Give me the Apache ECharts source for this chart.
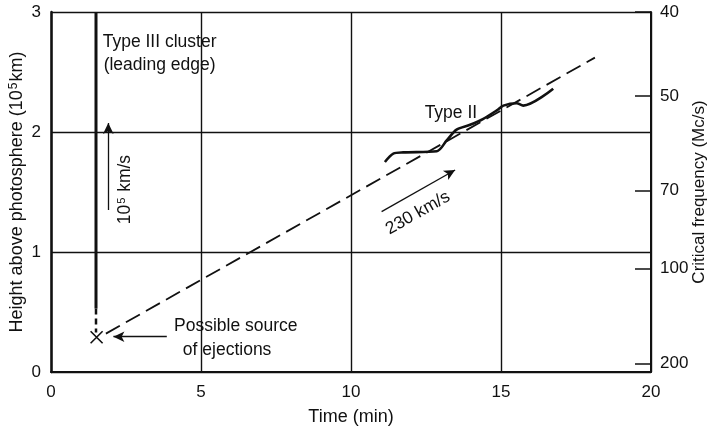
<!DOCTYPE html>
<html>
<head>
<meta charset="utf-8">
<script src="https://cdn.jsdelivr.net/npm/echarts@6/dist/echarts.min.js"></script>
<style>
  html, body { margin: 0; padding: 0; background: #fff; }
  #main { width: 711px; height: 430px; }
</style>
</head>
<body>
<div id="main"></div>
<script>
// x: time (min), y: height above photosphere (10^5 km)
var typeIIIsolid = [[1.5, 3], [1.5, 0.53]]
var typeIIIdashed = [[1.5, 0.53], [1.5, 0.33]]
var sourcePoint = [[1.52, 0.29]]
var ejectionLine = [[1.83, 0.32], [18.13, 2.62]]
var typeIICurve = [
  [11.13, 1.75], [11.41, 1.82], [11.74, 1.83], [12.86, 1.84], [13.19, 1.93],
  [13.52, 2.02], [13.97, 2.06], [14.41, 2.11], [14.86, 2.18], [15.08, 2.22],
  [15.52, 2.24], [15.74, 2.22], [16.74, 2.36]
]
// right axis: critical frequency labels and the heights where they sit
var freqLabels = ['40', '50', '70', '100', '200']
var freqHeights = [3, 2.30, 1.51, 0.86, 0.07]

// annotations [text, x, y, rotate]
var notes = [
  ['Type III cluster', 3.62, 2.75, 0],
  ['(leading edge)', 3.62, 2.56, 0],
  ['{b|10}{s|5}{b| km/s}', 2.47, 1.52, 90],
  ['Type II', 13.33, 2.16, 0],
  ['230 km/s', 12.23, 1.325, 29.6],
  ['Possible source', 6.16, 0.38, 0],
  ['of ejections', 5.87, 0.18, 0]
]
var arrows = [
  [[1.91, 1.35], [1.91, 2.075]],
  [[11.02, 1.336], [13.47, 1.683]],
  [[3.86, 0.294], [2.08, 0.294]]
]

var ink = '#111'
var font = 'Liberation Sans'
var chart = echarts.init(document.getElementById('main'))

var options = {
  backgroundColor: '#fff',
  animation: false,
  textStyle: { fontFamily: font, color: ink },
  grid: { left: 51, right: 60, top: 12, bottom: 58, outerBoundsMode: 'none', containLabel: false },
  xAxis: {
    type: 'value',
    min: 0,
    max: 20,
    interval: 5,
    name: 'Time (min)',
    nameLocation: 'middle',
    nameGap: 36,
    nameMoveOverlap: false,
    nameTextStyle: { fontSize: 18, color: ink, fontFamily: font },
    axisLine: { lineStyle: { color: ink, width: 2 } },
    axisTick: { show: false },
    axisLabel: { fontSize: 17, color: ink, margin: 12 },
    splitLine: { show: true, lineStyle: { color: ink, width: 1.4 } }
  },
  yAxis: [
    {
      type: 'value',
      min: 0,
      max: 3,
      interval: 1,
      name: 'Height above photosphere (10{s|5}km)',
      nameLocation: 'middle',
      nameRotate: 90,
      nameGap: 24,
      nameMoveOverlap: false,
      nameTextStyle: {
        fontSize: 18, color: ink, fontFamily: font,
        rich: { s: { fontSize: 12, verticalAlign: 'top', color: ink, padding: [0, 1, 7, 1] } }
      },
      axisLine: { show: true, lineStyle: { color: ink, width: 2.5 } },
      axisTick: { show: false },
      axisLabel: { fontSize: 17, color: ink, margin: 10 },
      splitLine: { show: true, lineStyle: { color: ink, width: 1.4 } }
    },
    {
      type: 'value',
      min: 0,
      max: 3,
      position: 'right',
      name: 'Critical frequency (Mc/s)',
      nameLocation: 'middle',
      nameRotate: 90,
      nameGap: 40,
      nameMoveOverlap: false,
      nameTextStyle: { fontSize: 17, color: ink, fontFamily: font },
      axisLine: { show: true, lineStyle: { color: ink, width: 2 } },
      axisTick: {
        show: true, inside: true, length: 16, customValues: freqHeights,
        lineStyle: { color: ink, width: 1.5 }
      },
      axisLabel: {
        fontSize: 17, color: ink, margin: 9, customValues: freqHeights,
        formatter: function (v) {
          for (var i = 0; i < freqHeights.length; i++) {
            if (Math.abs(freqHeights[i] - v) < 1e-6) return freqLabels[i]
          }
          return ''
        }
      },
      splitLine: { show: false }
    }
  ],
  series: [
    {
      type: 'line',
      data: typeIIIsolid,
      symbol: 'none',
      lineStyle: { color: ink, width: 3 }
    },
    {
      type: 'line',
      data: typeIIIdashed,
      symbol: 'none',
      lineStyle: { color: ink, width: 2.5, type: [6, 4] }
    },
    {
      type: 'line',
      data: ejectionLine,
      symbol: 'none',
      lineStyle: { color: ink, width: 1.8, type: [16, 7] }
    },
    {
      type: 'line',
      data: typeIICurve,
      symbol: 'none',
      smooth: 0.3,
      lineStyle: { color: ink, width: 2.6 }
    },
    {
      type: 'scatter',
      data: sourcePoint,
      symbol: 'path://M0,0L10,10M10,0L0,10',
      symbolSize: 12,
      itemStyle: { color: 'none', borderColor: ink, borderWidth: 1.6, opacity: 1 }
    },
    {
      type: 'line',
      data: [],
      markLine: {
        silent: true,
        symbol: ['none', 'arrow'],
        symbolSize: [8, 11],
        label: { show: false },
        lineStyle: { color: ink, width: 1.3, type: 'solid' },
        data: arrows.map(function (a) {
          return [{ coord: a[0] }, { coord: a[1] }]
        })
      }
    },
    {
      type: 'scatter',
      symbolSize: 1,
      itemStyle: { color: 'transparent', opacity: 1 },
      data: notes.map(function (n) {
        return {
          value: [n[1], n[2]],
          label: {
            show: true,
            position: 'inside',
            formatter: n[0],
            rotate: n[3],
            fontSize: 17.5,
            color: ink,
            opacity: 1,
            textBorderWidth: 0,
            fontFamily: font,
            rich: {
              b: { fontSize: 17.5, color: ink, fontFamily: font },
              s: { fontSize: 11, color: ink, fontFamily: font, verticalAlign: 'top', padding: [0, 1, 7, 1] }
            }
          }
        }
      })
    }
  ]
}
chart.setOption(options)
</script>
</body>
</html>
